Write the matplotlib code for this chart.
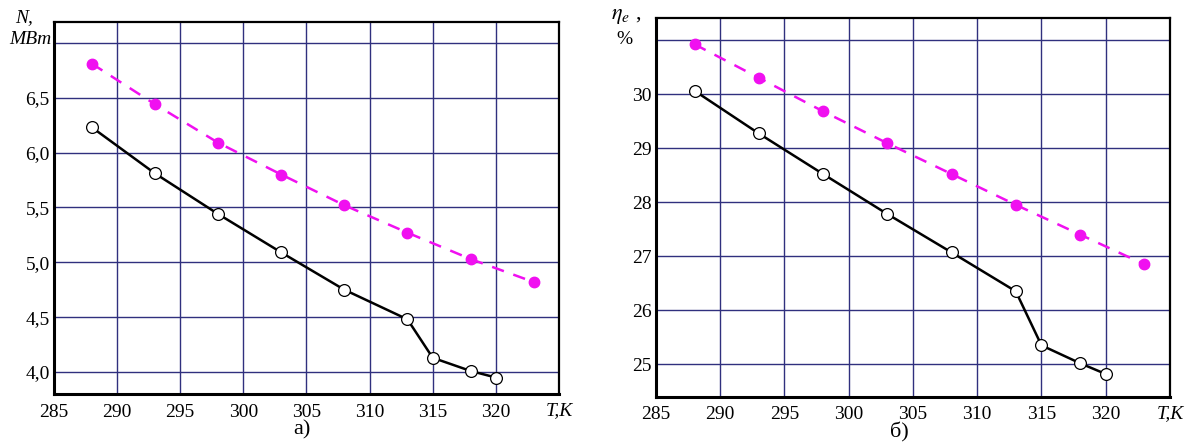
import matplotlib.pyplot as plt

# data
t_full = [288, 293, 298, 303, 308, 313, 318, 323]
t_real = [288, 293, 298, 303, 308, 313, 315, 318, 320]

n_full = [6.81, 6.44, 6.09, 5.80, 5.52, 5.27, 5.03, 4.82]
n_real = [6.23, 5.81, 5.44, 5.09, 4.75, 4.48, 4.13, 4.01, 3.95]

eta_full = [30.92, 30.30, 29.68, 29.09, 28.52, 27.95, 27.40, 26.85]
eta_real = [30.06, 29.27, 28.52, 27.78, 27.07, 26.35, 25.35, 25.02, 24.82]

x_ticks = [285, 290, 295, 300, 305, 310, 315, 320, 325]
x_labels = ['285', '290', '295', '300', '305', '310', '315', '320', '']

n_ticks = [4.0, 4.5, 5.0, 5.5, 6.0, 6.5, 7.0]
n_labels = ['4,0', '4,5', '5,0', '5,5', '6,0', '6,5', '']

eta_ticks = [25, 26, 27, 28, 29, 30, 31]
eta_labels = ['25', '26', '27', '28', '29', '30', '']

plt.rcParams['font.family'] = ['Liberation Serif', 'DejaVu Serif']
plt.rcParams['mathtext.fontset'] = 'stix'

MAGENTA = '#f010f0'
GRID = '#30307e'

fig = plt.figure(figsize=(11.89, 4.47), dpi=100)
ax1 = fig.add_axes([0.0454, 0.1186, 0.4247, 0.8322])
ax2 = fig.add_axes([0.5517, 0.1125, 0.4323, 0.8465])


def style_axes(ax, yticks, ylabels, ylim):
    ax.set_xlim(285, 325)
    ax.set_ylim(*ylim)
    ax.set_xticks(x_ticks)
    ax.set_xticklabels(x_labels, fontsize=14)
    ax.set_yticks(yticks)
    ax.set_yticklabels(ylabels, fontsize=14)
    ax.tick_params(axis='x', length=0, pad=7)
    ax.tick_params(axis='y', length=0, pad=3)
    ax.grid(True, color=GRID, linewidth=1.0)
    ax.set_axisbelow(True)
    for side in ['left', 'bottom']:
        ax.spines[side].set_linewidth(2.2)
    for side in ['top', 'right']:
        ax.spines[side].set_linewidth(1.6)
    ax.text(1.0, -0.045, 'T,K', transform=ax.transAxes, ha='center',
            va='center', fontsize=14, style='italic')


def draw(ax, tf, yf, tr, yr):
    ax.plot(tf, yf, color=MAGENTA, linestyle=(0, (5, 4)), linewidth=1.8,
            marker='o', markersize=7.5, markerfacecolor=MAGENTA,
            markeredgecolor=MAGENTA, zorder=3)
    ax.plot(tr, yr, color='black', linewidth=1.8, marker='o', markersize=8.5,
            markerfacecolor='white', markeredgecolor='black',
            markeredgewidth=0.9, zorder=4)


style_axes(ax1, n_ticks, n_labels, (3.8, 7.19))
draw(ax1, t_full, n_full, t_real, n_real)
style_axes(ax2, eta_ticks, eta_labels, (24.4, 31.4))
draw(ax2, t_full, eta_full, t_real, eta_real)

fig.text(0.0202, 0.960, 'N,', fontsize=14, style='italic', ha='center', va='center')
fig.text(0.0252, 0.912, 'MBm', fontsize=14, style='italic', ha='center', va='center')
fig.text(0.5265, 0.962, r'$\eta_e$ ,', fontsize=16, ha='center', va='center')
fig.text(0.5255, 0.912, '%', fontsize=14, ha='center', va='center')

fig.text(0.2540, 0.038, 'а)', fontsize=16, ha='center', va='center')
fig.text(0.7560, 0.033, 'б)', fontsize=16, ha='center', va='center')

fig.savefig('out.png', dpi=100)
